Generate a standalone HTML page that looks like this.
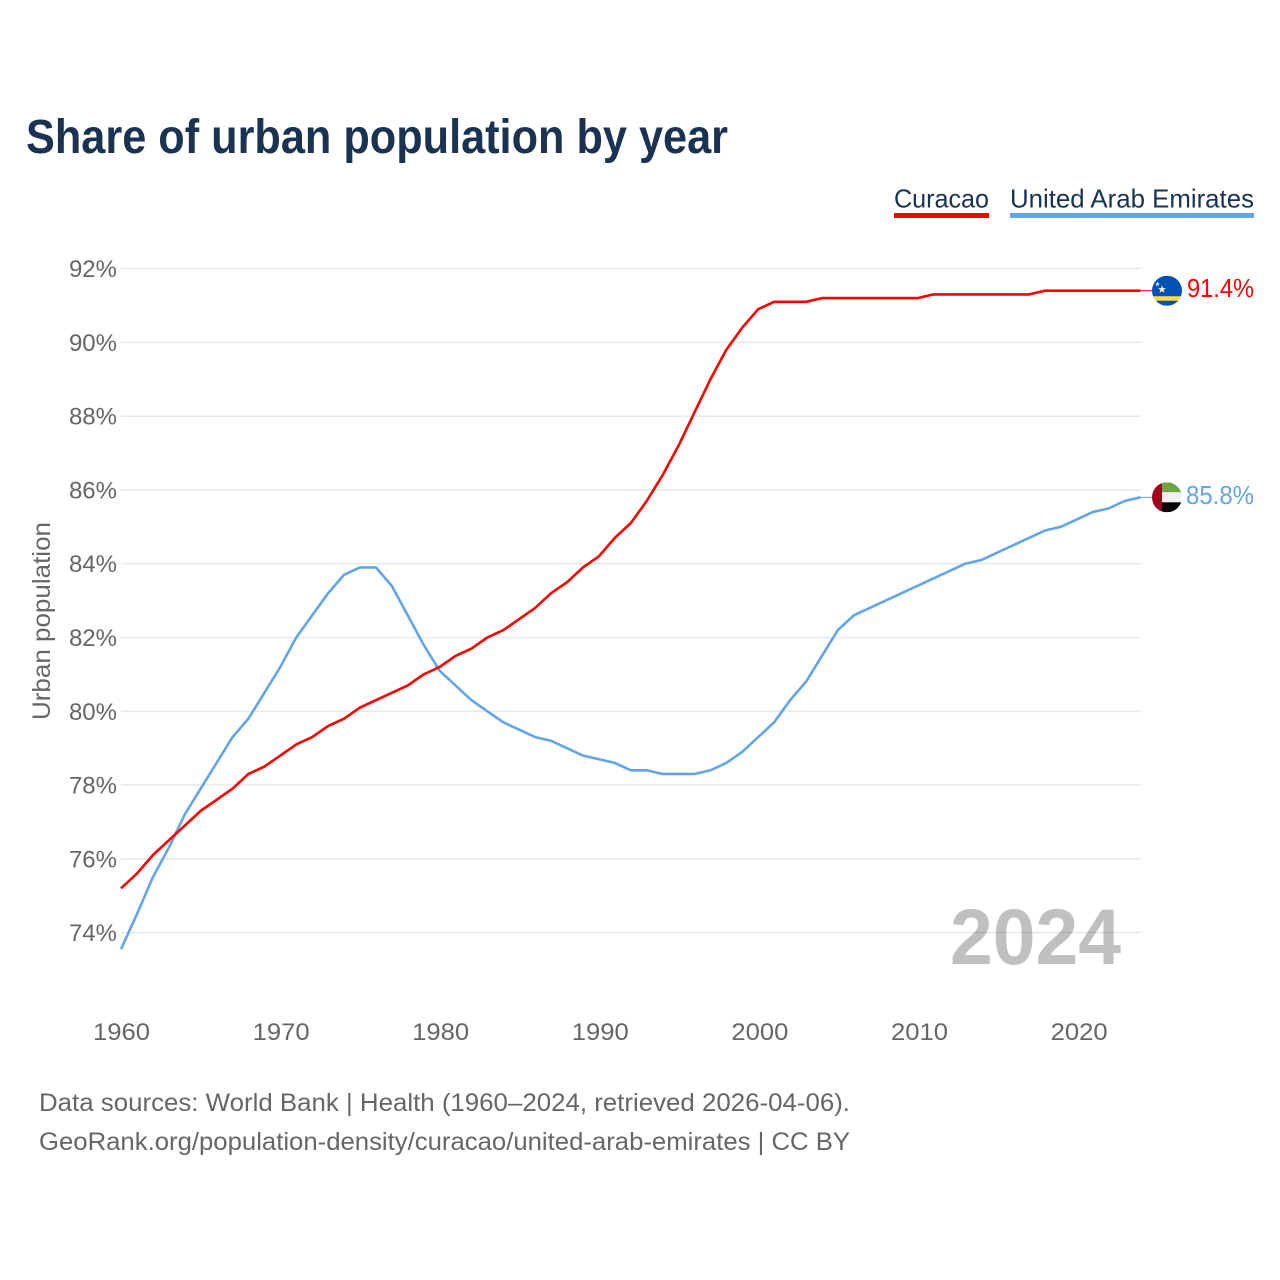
<!DOCTYPE html>
<html lang="en">
<head>
<meta charset="utf-8">
<title>Share of urban population by year</title>
<style>
  html, body { margin: 0; padding: 0; background: #fff; }
  svg { display: block; font-family: "Liberation Sans", sans-serif; }
</style>
</head>
<body>
<svg id="chart" xmlns="http://www.w3.org/2000/svg" width="1280" height="1280" viewBox="0 0 1280 1280">
  <rect x="0" y="0" width="1280" height="1280" fill="#ffffff"/>
  <text x="26" y="153" font-size="48" font-weight="700" fill="#1a3353" textLength="702" lengthAdjust="spacingAndGlyphs">Share of urban population by year</text>

  <g>
    <text x="894" y="207.5" font-size="26" fill="#1a3353" textLength="95" lengthAdjust="spacingAndGlyphs">Curacao</text>
    <rect x="894" y="213" width="95" height="5" fill="#ff0000"/>
  </g>
  <g>
    <text x="1010" y="207.5" font-size="26" fill="#1a3353" textLength="244" lengthAdjust="spacingAndGlyphs">United Arab Emirates</text>
    <rect x="1010" y="213" width="244" height="5" fill="#62a5eb"/>
  </g>

  <text x="950" y="964" font-size="79" font-weight="700" fill="#c0c0c0" textLength="171" lengthAdjust="spacingAndGlyphs">2024</text>

  <g id="grid"></g>
  <g id="y-ticks"></g>
  <g id="x-ticks"></g>

  <text transform="translate(50 720) rotate(-90)" font-size="25" fill="#666666" textLength="198" lengthAdjust="spacingAndGlyphs">Urban population</text>

  <g id="series"></g>

  <defs>
    <clipPath id="flag-clip"><circle cx="0" cy="0" r="15"/></clipPath>
  </defs>

  <g id="flag-curacao">
    <g clip-path="url(#flag-clip)">
      <rect x="-15" y="-15" width="30" height="30" fill="#0052b4"/>
      <rect x="-15" y="5.5" width="30" height="4.5" fill="#ffda44"/>
      <polygon points="-5,-5.5 -4,-2.6 -1,-2.6 -3.4,-0.8 -2.5,2.2 -5,0.4 -7.5,2.2 -6.6,-0.8 -9,-2.6 -6,-2.6" fill="#f0f0f0"/>
      <polygon points="-9.5,-9 -8.9,-7.3 -7.2,-7.3 -8.6,-6.2 -8,-4.5 -9.5,-5.6 -11,-4.5 -10.4,-6.2 -11.8,-7.3 -10.1,-7.3" fill="#f0f0f0"/>
    </g>
  </g>
  <g id="flag-uae">
    <g clip-path="url(#flag-clip)">
      <rect x="-15" y="-15" width="30" height="10" fill="#6da544"/>
      <rect x="-15" y="-5" width="30" height="10" fill="#f0f0f0"/>
      <rect x="-15" y="5" width="30" height="10" fill="#000000"/>
      <rect x="-15" y="-15" width="10" height="30" fill="#a2001d"/>
    </g>
  </g>

  <text id="value-curacao" x="1187" font-size="26" fill="#ff0000" textLength="67" lengthAdjust="spacingAndGlyphs"></text>
  <text id="value-uae" x="1186" font-size="26" fill="#62a5eb" textLength="68" lengthAdjust="spacingAndGlyphs"></text>

  <text x="39" y="1111" font-size="25" fill="#666666" textLength="811" lengthAdjust="spacingAndGlyphs">Data sources: World Bank | Health (1960–2024, retrieved 2026-04-06).</text>
  <text x="39" y="1150" font-size="25" fill="#666666" textLength="811" lengthAdjust="spacingAndGlyphs">GeoRank.org/population-density/curacao/united-arab-emirates | CC BY</text>
</svg>

<script>
const startYear = 1960;
const yTickValues = [92, 90, 88, 86, 84, 82, 80, 78, 76, 74];
const xTickYears = [1960, 1970, 1980, 1990, 2000, 2010, 2020];
const curacaoValues = [
  75.2, 75.6, 76.1, 76.5, 76.9, 77.3, 77.6, 77.9, 78.3, 78.5,
  78.8, 79.1, 79.3, 79.6, 79.8, 80.1, 80.3, 80.5, 80.7, 81.0,
  81.2, 81.5, 81.7, 82.0, 82.2, 82.5, 82.8, 83.2, 83.5, 83.9,
  84.2, 84.7, 85.1, 85.7, 86.4, 87.2, 88.1, 89.0, 89.8, 90.4,
  90.9, 91.1, 91.1, 91.1, 91.2, 91.2, 91.2, 91.2, 91.2, 91.2,
  91.2, 91.3, 91.3, 91.3, 91.3, 91.3, 91.3, 91.3, 91.4, 91.4,
  91.4, 91.4, 91.4, 91.4, 91.4
];
const uaeValues = [
  73.55, 74.5, 75.5, 76.3, 77.2, 77.9, 78.6, 79.3, 79.8, 80.5,
  81.2, 82.0, 82.6, 83.2, 83.7, 83.9, 83.9, 83.4, 82.6, 81.8,
  81.1, 80.7, 80.3, 80.0, 79.7, 79.5, 79.3, 79.2, 79.0, 78.8,
  78.7, 78.6, 78.4, 78.4, 78.3, 78.3, 78.3, 78.4, 78.6, 78.9,
  79.3, 79.7, 80.3, 80.8, 81.5, 82.2, 82.6, 82.8, 83.0, 83.2,
  83.4, 83.6, 83.8, 84.0, 84.1, 84.3, 84.5, 84.7, 84.9, 85.0,
  85.2, 85.4, 85.5, 85.7, 85.8
];

const SVG_NS = 'http://www.w3.org/2000/svg';
function xScale(year) { return 121 + (year - 1960) * 15.93; }
function xLabelScale(year) { return 121.5 + (year - 1960) * 15.96; }
function yScale(value) { return 268.6 + (92 - value) * (664 / 18); }

const gridGroup = document.getElementById('grid');
const yTickGroup = document.getElementById('y-ticks');
yTickValues.forEach(function (v) {
  const line = document.createElementNS(SVG_NS, 'line');
  
  
  line.setAttribute('x1', 121);
  line.setAttribute('x2', 1141);
  line.setAttribute('y1', yScale(v));
  line.setAttribute('y2', yScale(v));
  line.setAttribute('stroke', 'rgba(0,0,0,0.085)');
  line.setAttribute('stroke-width', 1.6);
  gridGroup.appendChild(line);

  const label = document.createElementNS(SVG_NS, 'text');
  
  
  label.setAttribute('x', 117);
  label.setAttribute('y', yScale(v) + 8.5);
  label.setAttribute('font-size', 24);
  label.setAttribute('fill', '#666666');
  label.setAttribute('text-anchor', 'end');
  label.textContent = v + '%';
  yTickGroup.appendChild(label);
});

const xTickGroup = document.getElementById('x-ticks');
xTickYears.forEach(function (year) {
  const label = document.createElementNS(SVG_NS, 'text');
  
  
  label.setAttribute('x', xLabelScale(year));
  label.setAttribute('y', 1040);
  label.setAttribute('font-size', 24);
  label.setAttribute('fill', '#666666');
  label.setAttribute('text-anchor', 'middle');
  label.setAttribute('textLength', 57);
  label.setAttribute('lengthAdjust', 'spacingAndGlyphs');
  label.textContent = year;
  xTickGroup.appendChild(label);
});

function pathFor(values) {
  return values.map(function (v, i) {
    return (i ? 'L' : 'M') + xScale(startYear + i).toFixed(2) + ' ' + yScale(v).toFixed(2);
  }).join(' ');
}

const seriesGroup = document.getElementById('series');

const uaeLine = document.createElementNS(SVG_NS, 'path');


uaeLine.setAttribute('d', pathFor(uaeValues));
uaeLine.setAttribute('fill', 'none');
uaeLine.setAttribute('stroke', '#62a5eb');
uaeLine.setAttribute('stroke-width', 2.6);
uaeLine.setAttribute('stroke-linejoin', 'round');
seriesGroup.appendChild(uaeLine);

const curacaoLine = document.createElementNS(SVG_NS, 'path');


curacaoLine.setAttribute('d', pathFor(curacaoValues));
curacaoLine.setAttribute('fill', 'none');
curacaoLine.setAttribute('stroke', '#ff0000');
curacaoLine.setAttribute('stroke-width', 2.6);
curacaoLine.setAttribute('stroke-linejoin', 'round');
seriesGroup.appendChild(curacaoLine);

const curacaoConnector = document.createElementNS(SVG_NS, 'line');


curacaoConnector.setAttribute('x1', xScale(startYear + curacaoValues.length - 1));
curacaoConnector.setAttribute('x2', 1153);
curacaoConnector.setAttribute('y1', yScale(curacaoValues[curacaoValues.length - 1]));
curacaoConnector.setAttribute('y2', yScale(curacaoValues[curacaoValues.length - 1]));
curacaoConnector.setAttribute('stroke', '#ff0000');
curacaoConnector.setAttribute('stroke-width', 1);
seriesGroup.appendChild(curacaoConnector);

const uaeConnector = document.createElementNS(SVG_NS, 'line');


uaeConnector.setAttribute('x1', xScale(startYear + uaeValues.length - 1));
uaeConnector.setAttribute('x2', 1153);
uaeConnector.setAttribute('y1', yScale(uaeValues[uaeValues.length - 1]));
uaeConnector.setAttribute('y2', yScale(uaeValues[uaeValues.length - 1]));
uaeConnector.setAttribute('stroke', '#62a5eb');
uaeConnector.setAttribute('stroke-width', 1);
seriesGroup.appendChild(uaeConnector);

function placeEnd(flagId, valueId, values) {
  const last = values[values.length - 1];
  const y = yScale(last);
  document.getElementById(flagId).setAttribute('transform', 'translate(1167 ' + y.toFixed(2) + ')');
  const label = document.getElementById(valueId);
  label.setAttribute('y', (y + 6.5).toFixed(2));
  label.textContent = last.toFixed(1) + '%';
}
placeEnd('flag-curacao', 'value-curacao', curacaoValues);
placeEnd('flag-uae', 'value-uae', uaeValues);
</script>
</body>
</html>
